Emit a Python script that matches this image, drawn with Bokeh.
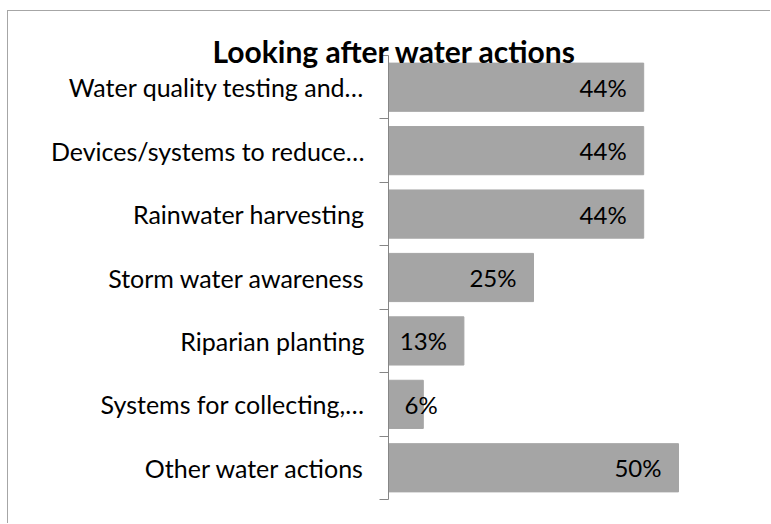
from bokeh.plotting import figure
from bokeh.models import FixedTicker
from bokeh.embed import file_html
from bokeh.resources import INLINE
from bokeh.core.properties import value

# ---- data ----
categories = [
    "Water quality testing and…",
    "Devices/systems to reduce…",
    "Rainwater harvesting",
    "Storm water awareness",
    "Riparian planting",
    "Systems for collecting,…",
    "Other water actions",
]
percent = [44, 44, 44, 25, 13, 6, 50]
title_text = "Looking after water actions"

FONT = "Lato"
BAR = "#a5a5a5"
AXIS = "#868686"
LBL = "25px"

n = len(categories)
centers = [n - i - 0.5 for i in range(n)]
bounds = list(range(n + 1))
labels = [f"{v}%" for v in percent]

p = figure(width=763, height=513, x_range=(0, 60), y_range=(0, n),
           output_backend="svg", toolbar_location=None,
           min_border_left=380, min_border_right=35,
           min_border_top=44, min_border_bottom=25)
p.styles = {"margin-left": "7px", "margin-top": "10px",
            "border-left": "1px solid #a6a6a6", "border-top": "1px solid #a6a6a6"}

p.hbar(y=centers, right=percent, left=0, height=0.76, color=BAR)

ins = [i for i, v in enumerate(percent) if v >= 10]
out = [i for i, v in enumerate(percent) if v < 10]
p.text(x=[percent[i] for i in ins], y=[centers[i] for i in ins],
       text=[labels[i] for i in ins], text_align="right", text_baseline="middle",
       x_offset=-17, text_font=value(FONT), text_font_size="24px", text_color="#000000")
p.text(x=[0 for i in out], y=[centers[i] for i in out],
       text=[labels[i] for i in out], text_align="left", text_baseline="middle",
       x_offset=16, text_font=value(FONT), text_font_size="24px", text_color="#000000")

p.xaxis.visible = False
p.xgrid.visible = False
p.ygrid.visible = False
p.outline_line_color = None

ya = p.yaxis[0]
ya.ticker = FixedTicker(ticks=centers, minor_ticks=bounds)
ya.major_label_overrides = {c: name for c, name in zip(centers, categories)}
ya.major_tick_out = 0
ya.major_tick_in = 0
ya.minor_tick_out = 9
ya.minor_tick_in = 0
ya.axis_line_color = AXIS
ya.minor_tick_line_color = AXIS
ya.major_label_standoff = 15
ya.major_label_text_font = FONT
ya.major_label_text_font_size = LBL
ya.major_label_text_color = "#000000"

p.title.text = title_text
p.title.align = "left"
p.title.offset = -176
p.title.standoff = -26
p.title.text_font = FONT
p.title.text_font_style = "bold"
p.title.text_font_size = "30px"
p.title.text_color = "#000000"

open("out.html", "w").write(file_html(p, INLINE))
